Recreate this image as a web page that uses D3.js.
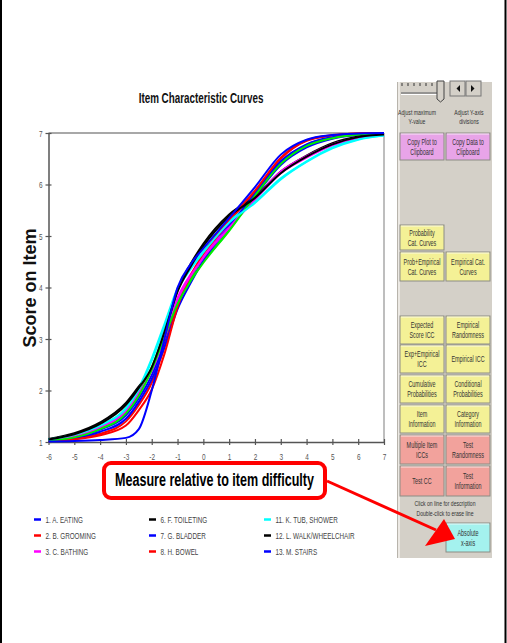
<!DOCTYPE html>
<html>
<head>
<meta charset="utf-8">
<script src="https://cdn.jsdelivr.net/npm/d3@7/dist/d3.min.js"></script>
<style>
  html, body { margin: 0; padding: 0; background: #fff; }
  svg { display: block; }
  text { font-family: "Liberation Sans", Arial, sans-serif; }
</style>
</head>
<body>
<div id="chart"></div>
<script>
/* measure (relative to item difficulty) where each curve was read */
const measures = [-6, -5, -4, -3, -2.5, -2, -1.5, -1, -0.5, 0, 1, 2, 3, 4, 5, 6, 7];

const itemNames = [
    "1. A. EATING", "2. B. GROOMING", "3. C. BATHING", "4. D. DRESSING UPPER",
    "5. E. DRESSING LOWER", "6. F. TOILETING", "7. G. BLADDER", "8. H. BOWEL",
    "9. I. BED/CHAIR", "10. J. TOILET", "11. K. TUB, SHOWER",
    "12. L. WALK/WHEELCHAIR", "13. M. STAIRS"
];
const itemColors = [
    "#0000ff", "#ff0000", "#ff00ff", "#00ee00", "#00ffff", "#000000", "#0000ff",
    "#ff0000", "#ff00ff", "#00ee00", "#00ffff", "#000000", "#0000ff"
];

/* expected score on item, one row per item */
const itemScores = [
    [1.04, 1.10, 1.24, 1.52, 1.85, 2.30, 2.95, 3.70, 4.20, 4.58, 5.22, 5.78, 6.38, 6.72, 6.89, 6.96, 6.99],
    [1.02, 1.06, 1.16, 1.40, 1.72, 2.15, 2.85, 3.65, 4.20, 4.62, 5.28, 5.85, 6.50, 6.85, 6.95, 6.99, 7.00],
    [1.04, 1.12, 1.30, 1.63, 1.98, 2.42, 3.05, 3.80, 4.25, 4.60, 5.18, 5.70, 6.22, 6.52, 6.76, 6.90, 6.96],
    [1.03, 1.10, 1.27, 1.58, 1.95, 2.45, 3.10, 3.72, 4.15, 4.50, 5.12, 5.80, 6.42, 6.77, 6.91, 6.97, 6.99],
    [1.05, 1.15, 1.33, 1.66, 2.05, 2.62, 3.30, 3.98, 4.38, 4.70, 5.28, 5.66, 6.12, 6.45, 6.72, 6.88, 6.95],
    [1.06, 1.17, 1.38, 1.76, 2.08, 2.40, 3.10, 3.95, 4.45, 4.85, 5.42, 5.76, 6.25, 6.56, 6.80, 6.93, 6.98],
    [1.03, 1.08, 1.20, 1.45, 1.78, 2.22, 2.85, 3.58, 4.08, 4.52, 5.18, 5.82, 6.45, 6.78, 6.92, 6.98, 7.00],
    [1.02, 1.05, 1.13, 1.32, 1.62, 2.02, 2.72, 3.62, 4.22, 4.66, 5.32, 5.88, 6.52, 6.86, 6.96, 6.99, 7.00],
    [1.04, 1.11, 1.28, 1.60, 1.95, 2.38, 3.02, 3.76, 4.22, 4.58, 5.16, 5.72, 6.25, 6.55, 6.78, 6.91, 6.97],
    [1.03, 1.09, 1.25, 1.55, 1.90, 2.40, 3.05, 3.68, 4.12, 4.48, 5.10, 5.78, 6.40, 6.75, 6.90, 6.97, 6.99],
    [1.05, 1.14, 1.32, 1.65, 2.02, 2.58, 3.25, 3.95, 4.35, 4.68, 5.26, 5.64, 6.10, 6.44, 6.70, 6.87, 6.95],
    [1.05, 1.15, 1.35, 1.72, 2.05, 2.45, 3.15, 3.92, 4.40, 4.80, 5.38, 5.74, 6.22, 6.54, 6.78, 6.92, 6.97],
    [1.01, 1.02, 1.04, 1.08, 1.25, 2.00, 3.02, 4.00, 4.45, 4.76, 5.35, 5.95, 6.58, 6.87, 6.96, 6.99, 7.00]
];

/* items visible in the legend box */
const legendItems = [0, 1, 2, 5, 6, 7, 10, 11, 12];

const xTicks = [-6, -5, -4, -3, -2, -1, 0, 1, 2, 3, 4, 5, 6, 7];
const yTicks = [1, 2, 3, 4, 5, 6, 7];

const chartTitle = "Item Characteristic Curves";
const yTitle = "Score on Item";
const calloutText = "Measure relative to item difficulty";

/* side panel button captions */
const pinkButtons = [["Copy Plot to", "Clipboard"], ["Copy Data to", "Clipboard"]];
const yellowButtons = [
    ["Probability", "Cat. Curves"], ["Prob+Empirical", "Cat. Curves"], ["Empirical Cat.", "Curves"],
    ["Expected", "Score ICC"], ["Empirical", "Randomness"],
    ["Exp+Empirical", "ICC"], ["Empirical ICC"],
    ["Cumulative", "Probabilities"], ["Conditional", "Probabilities"],
    ["Item", "Information"], ["Category", "Information"]
];
const redButtons = [["Multiple Item", "ICCs"], ["Test", "Randomness"], ["Test CC"], ["Test", "Information"]];
const cyanButtons = [["Absolute", "x-axis"]];

/* the screenshot text is narrow, squeeze glyphs horizontally */
const SQ = 0.68;

let width = 507, height = 643;

let svg = d3.select("#chart").append("svg")
    .attr("width", width)
    .attr("height", height);

svg.append("rect").attr("width", width).attr("height", height).attr("fill", "#fff");

/* write squeezed text at x,y */
function sqText(parent, x, y, str, size, anchor, weight, fill, sq) {
    return parent.append("text")
        .attr("transform", "translate(" + x + "," + y + ") scale(" + (sq || SQ) + ",1)")
        .attr("text-anchor", anchor || "start")
        .style("font-size", size + "px")
        .style("font-weight", weight || "normal")
        .attr("fill", fill || "#333")
        .text(str);
}

/* Scales */
let xScale = d3.scaleLinear().domain([-6, 7]).range([48.5, 384]);
let yScale = d3.scaleLinear().domain([1, 7]).range([442, 133]);

/* top and right frame of the plot */
svg.append("line").attr("x1", 48.5).attr("x2", 384).attr("y1", 133).attr("y2", 133)
    .attr("stroke", "#a8a8a8").attr("stroke-width", 2);
svg.append("line").attr("x1", 384).attr("x2", 384).attr("y1", 133).attr("y2", 442)
    .attr("stroke", "#a8a8a8").attr("stroke-width", 1.5);

/* X axis */
let xAxis = d3.axisBottom(xScale).tickValues(xTicks).tickFormat(d => String(d))
    .tickSizeInner(3).tickSizeOuter(0).tickPadding(0);
let gx = svg.append("g")
    .attr("transform", "translate(0," + 442 + ")")
    .call(xAxis);
gx.select(".domain").attr("stroke", "#555").attr("stroke-width", 1.5);
gx.selectAll(".tick line").attr("y1", -3).attr("y2", 3).attr("stroke", "#555").attr("stroke-width", 1.2);
gx.selectAll(".tick text")
    .attr("y", 0).attr("dy", null)
    .attr("transform", "translate(0,18) scale(" + SQ + ",1)")
    .style("font-size", "9.5px")
    .style("font-family", "'Liberation Sans', Arial, sans-serif")
    .attr("fill", "#555");

/* Y axis */
let yAxis = d3.axisLeft(yScale).tickValues(yTicks).tickFormat(d => String(d))
    .tickSizeInner(3).tickSizeOuter(0).tickPadding(0);
let gy = svg.append("g")
    .attr("transform", "translate(" + 48.5 + ",0)")
    .call(yAxis);
gy.select(".domain").attr("stroke", "#555").attr("stroke-width", 1.5);
gy.selectAll(".tick line").attr("x1", -3).attr("x2", 3).attr("stroke", "#555").attr("stroke-width", 1.2);
gy.selectAll(".tick text")
    .attr("x", 0).attr("dy", "0.35em")
    .attr("transform", "translate(-6,0) scale(" + SQ + ",1)")
    .style("font-size", "9.5px")
    .style("font-family", "'Liberation Sans', Arial, sans-serif")
    .attr("fill", "#555");

/* Curves */
let line = d3.line()
    .x(d => xScale(d[0]))
    .y(d => yScale(d[1]))
    .curve(d3.curveMonotoneX);

svg.append("g").selectAll("path")
    .data(itemScores)
    .enter()
    .append("path")
    .attr("d", row => line(row.map((v, i) => [measures[i], v])))
    .attr("fill", "none")
    .attr("stroke", (row, i) => itemColors[i])
    .attr("stroke-width", 2);

/* Titles */
sqText(svg, 201, 103, chartTitle, 14.5, "middle", "bold", "#111");

svg.append("text")
    .attr("transform", "translate(36,288) rotate(-90)")
    .attr("text-anchor", "middle")
    .style("font-size", "18px")
    .style("font-weight", "bold")
    .attr("fill", "#111")
    .text(yTitle);

/* Legend */
let legend = svg.append("g");
legendItems.forEach((item, k) => {
    let col = Math.floor(k / 3);
    let row = k % 3;
    let lx = 34 + col * 115;
    let ly = 519.5 + row * 16;
    legend.append("line")
        .attr("x1", lx).attr("x2", lx + 7).attr("y1", ly).attr("y2", ly)
        .attr("stroke", itemColors[item]).attr("stroke-width", 2.5);
    sqText(legend, lx + 11.5, ly + 3.3, itemNames[item], 9.3, "start", "normal", "#444");
});

/* Right side control panel */
let panel = svg.append("g");
panel.append("rect").attr("x", 397).attr("y", 82).attr("width", 95).attr("height", 476)
    .attr("fill", "#d4d0c8");
panel.append("line").attr("x1", 397.5).attr("x2", 397.5).attr("y1", 82).attr("y2", 558)
    .attr("stroke", "#b8b4ac").attr("stroke-width", 1);
panel.append("line").attr("x1", 399).attr("x2", 399).attr("y1", 82).attr("y2", 558)
    .attr("stroke", "#f4f2ee").attr("stroke-width", 1.5);

/* slider */
d3.range(402, 442, 6).forEach(tx => {
    panel.append("line").attr("x1", tx).attr("x2", tx).attr("y1", 83).attr("y2", 86)
        .attr("stroke", "#333").attr("stroke-width", 1);
});
panel.append("line").attr("x1", 401).attr("x2", 444).attr("y1", 93).attr("y2", 93)
    .attr("stroke", "#808080").attr("stroke-width", 1.5);
panel.append("line").attr("x1", 401).attr("x2", 444).attr("y1", 94.5).attr("y2", 94.5)
    .attr("stroke", "#fff").attr("stroke-width", 1);
panel.append("path")
    .attr("d", "M437,81 L444,81 L444,99 L440.5,102 L437,99 Z")
    .attr("fill", "#d4d0c8").attr("stroke", "#444").attr("stroke-width", 1);

/* spin arrows */
[[450, "M460,85 L460,92 L456.5,88.5 Z"], [466, "M471,85 L471,92 L474.5,88.5 Z"]].forEach(b => {
    panel.append("rect").attr("x", b[0]).attr("y", 81).attr("width", 15).attr("height", 15)
        .attr("fill", "#d4d0c8").attr("stroke", "#777").attr("stroke-width", 1);
    panel.append("path").attr("d", b[1]).attr("fill", "#111");
});

sqText(panel, 417, 115, "Adjust maximum", 8, "middle", "normal", "#333", 0.64);
sqText(panel, 417, 123.5, "Y-value", 8, "middle", "normal", "#333", 0.64);
sqText(panel, 469, 115, "Adjust Y-axis", 8, "middle", "normal", "#333", 0.64);
sqText(panel, 469, 123.5, "divisions", 8, "middle", "normal", "#333", 0.64);

sqText(panel, 445, 506, "Click on line for description", 8, "middle", "normal", "#333", 0.64);
sqText(panel, 445, 516, "Double-click to erase line", 8, "middle", "normal", "#333", 0.64);

/* one panel button with a one or two line caption */
function button(label, fill, col, top, h) {
    let bx = col === 0 ? 400 : 446;
    let bw = 44;
    panel.append("rect").attr("x", bx).attr("y", top).attr("width", bw).attr("height", h)
        .attr("fill", fill).attr("stroke", "#8c8c84").attr("stroke-width", 1);
    panel.append("line").attr("x1", bx + 1).attr("x2", bx + bw - 1).attr("y1", top + 1).attr("y2", top + 1)
        .attr("stroke", "#fff").attr("stroke-opacity", 0.7);
    let cy = top + h / 2;
    if (label.length === 1) {
        sqText(panel, bx + bw / 2, cy + 3, label[0], 8.5, "middle", "normal", "#333", 0.64);
    } else {
        sqText(panel, bx + bw / 2, cy - 2, label[0], 8.5, "middle", "normal", "#333", 0.64);
        sqText(panel, bx + bw / 2, cy + 8.2, label[1], 8.5, "middle", "normal", "#333", 0.64);
    }
}

button(pinkButtons[0], "#e8a4e8", 0, 133, 27);
button(pinkButtons[1], "#e8a4e8", 1, 133, 27);

let yellow = "#f4f196";
button(yellowButtons[0], yellow, 0, 225, 25);
button(yellowButtons[1], yellow, 0, 252, 29);
button(yellowButtons[2], yellow, 1, 252, 29);
let rowTops = [316, 345, 375, 405];
for (let r = 0; r < 4; r++) {
    button(yellowButtons[3 + r * 2], yellow, 0, rowTops[r], 28);
    button(yellowButtons[4 + r * 2], yellow, 1, rowTops[r], 28);
}
let red = "#f2a29c";
button(redButtons[0], red, 0, 435, 29);
button(redButtons[1], red, 1, 435, 29);
button(redButtons[2], red, 0, 466, 30);
button(redButtons[3], red, 1, 466, 30);
button(cyanButtons[0], "#a4f2ee", 1, 523, 29);

/* Callout box and arrow */
svg.append("rect").attr("x", 104).attr("y", 463).attr("width", 221).attr("height", 35)
    .attr("rx", 7).attr("fill", "#fff").attr("stroke", "#ff0000").attr("stroke-width", 4);
sqText(svg, 214.5, 485.5, calloutText, 18.5, "middle", "bold", "#000");

svg.append("line").attr("x1", 327).attr("y1", 481).attr("x2", 436).attr("y2", 530)
    .attr("stroke", "#ff0000").attr("stroke-width", 3);
svg.append("path").attr("d", "M455,539 L425,546 L444,519 Z").attr("fill", "#ff0000");

/* page borders */
svg.append("line").attr("x1", 1).attr("x2", 1).attr("y1", 0).attr("y2", height)
    .attr("stroke", "#000").attr("stroke-width", 2);
svg.append("line").attr("x1", 505.5).attr("x2", 505.5).attr("y1", 0).attr("y2", height)
    .attr("stroke", "#000").attr("stroke-width", 2);
</script>
</body>
</html>
